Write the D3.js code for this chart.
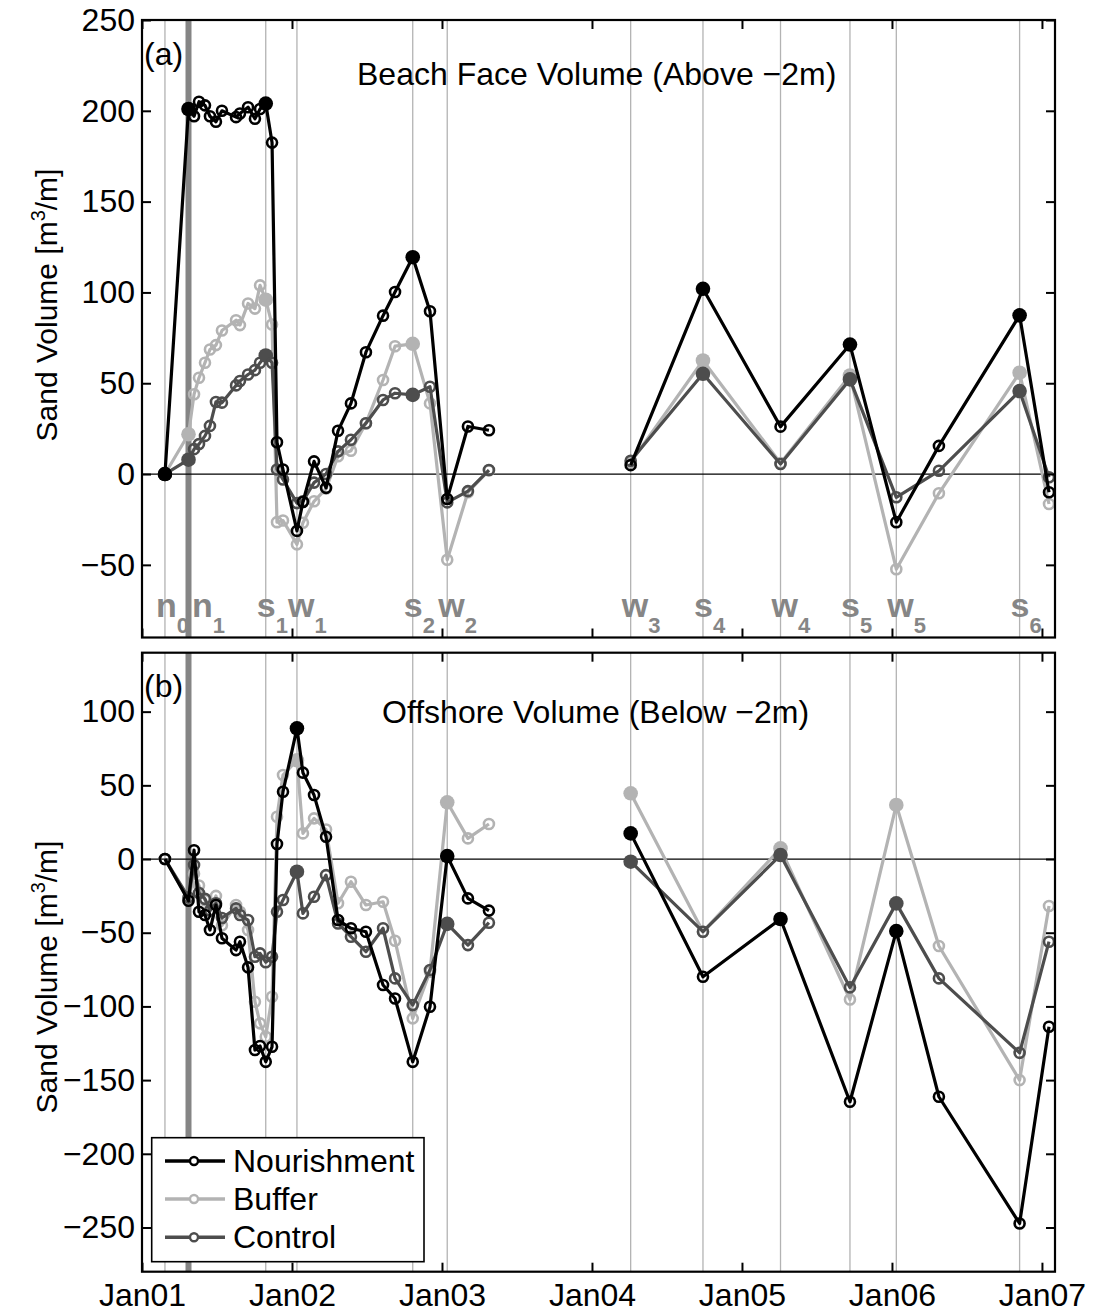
<!DOCTYPE html>
<html><head><meta charset="utf-8">
<script src="https://cdn.jsdelivr.net/npm/d3@7"></script>
<style>
body{margin:0;background:#fff}
svg{display:block}
text{font-family:"Liberation Sans",Arial,Helvetica,sans-serif}
</style>
</head><body>
<svg id="c" width="1094" height="1313"></svg>
<script>
// ---- data (decimal years) ----
const surveyTimes = [2001.153, 2001.31, 2001.347, 2001.38, 2001.42, 2001.453, 2001.493, 2001.533, 2001.627, 2001.653,
  2001.707, 2001.753, 2001.787, 2001.825, 2001.867, 2001.9, 2001.94, 2002.033, 2002.073, 2002.147,
  2002.227, 2002.307, 2002.393, 2002.493, 2002.607, 2002.687, 2002.805, 2002.92, 2003.035, 2003.173,
  2003.313, 2004.258, 2004.74, 2005.257, 2005.72, 2006.029, 2006.313, 2006.851, 2007.047];

const seriesNames = ["Nourishment", "Buffer", "Control"];

// Panel (a) Beach face volume (above -2m)
const beachNourishment = [0, 201, 197, 205, 203, 197, 194, 200, 196.5, 198.5,
  202, 195.6, 201, 204, 182.5, 17.5, 2.5, -31.3, -15.4, 7,
  -7.6, 23.8, 38.9, 67.1, 87.2, 100.2, 119.4, 89.6, -13.7, 26.2,
  24.1, 4.9, 102, 26.1, 71.3, -26.5, 15.5, 87.4, -10];
const beachBuffer = [0, 21.9, 43.9, 53, 61.3, 68.6, 71, 79, 84.7, 82,
  93.9, 91.1, 103.9, 96, 82.3, -26.5, -25.6, -38.7, -26.8, -15,
  -8, 9.8, 12.8, 28, 51.8, 70.4, 71.7, 38.9, -47.2, -10,
  2, 6.4, 62.5, 6, 54.3, -52.4, -10.6, 55.8, -16.5];
const beachControl = [0, 7.9, 13.7, 16.5, 21, 26.5, 39.7, 39.3, 48.8, 51.2,
  54.8, 57.2, 61.3, 65.3, 61.3, 2.5, -3, -16, -15, -4.7,
  0, 12.5, 18.9, 28, 40.8, 44.5, 43.6, 48.1, -15.6, -9.4,
  2.2, 7.3, 55.2, 5.5, 52.1, -12.8, 1.8, 45.7, -1.8];

// Panel (b) Offshore volume (below -2m)
const offNourishment = [0, -28.3, 6, -35.8, -38, -48.2, -31.2, -53.8, -61.8, -56.1,
  -73.5, -129.6, -126.9, -137.6, -127.4, 10.2, 45.7, 88.7, 58.6, 43.4,
  15.1, -41.4, -47, -49.3, -85.5, -94.6, -137.6, -100.2, 2, -26.7,
  -35, 17.4, -79.9, -40.7, -164.7, -48.9, -161.3, -247.3, -113.8];
const offBuffer = [0, -28, -10, -18, -28, -35, -25, -45, -31.2, -35.8,
  -48.2, -96.8, -111.5, -120.6, -93.4, 28.7, 57, 67, 17.4, 27.6,
  20, -30, -15.4, -31.2, -29, -55.4, -108.1, -76.5, 38.5, 14,
  23.8, 44.6, -49.3, 7.2, -95.3, 36.7, -59, -150, -31.9];
const offControl = [0, -26, -4, -23, -27, -35, -30, -40, -33.5, -38,
  -41.4, -66.3, -64, -70, -66.3, -35.8, -27.8, -8.6, -36.9, -25.6,
  -10.9, -43.7, -52.7, -62.9, -47, -81, -99.1, -75.3, -44, -58.4,
  -43.2, -1.8, -49.3, 2.7, -87.1, -30.1, -81, -131.5, -56.1];

// Events (s = summer, w = winter, n = nourishment)
const eventLetters = ["n", "n", "s", "w", "s", "w", "w", "s", "w", "s", "w", "s"];
const eventSubs    = ["0", "1", "1", "1", "2", "2", "3", "4", "4", "5", "5", "6"];
const eventTimes   = [2001.153, 2001.393, 2001.825, 2002.033, 2002.805, 2003.035, 2004.258, 2004.74, 2005.257, 2005.72, 2006.029, 2006.851];
const eventHasLine = [true, false, true, true, true, true, true, true, true, true, true, true];
const nourishmentTime = 2001.31;

// Filled markers: panel (a) at n & s surveys, panel (b) at w surveys
const filledTimesA = [2001.153, 2001.31, 2001.825, 2002.805, 2004.74, 2005.72, 2006.851];
const filledTimesB = [2002.033, 2003.035, 2004.258, 2005.257, 2006.029];

const xTickValues = [2001, 2002, 2003, 2004, 2005, 2006, 2007];
const xTickLabels = ["Jan01", "Jan02", "Jan03", "Jan04", "Jan05", "Jan06", "Jan07"];
const yTicksA = [-50, 0, 50, 100, 150, 200, 250];
const yTicksB = [-250, -200, -150, -100, -50, 0, 50, 100];

// ---- drawing ----
const svg = d3.select("#c");
const L = 142, R = 1055;
const x = d3.scaleLinear().domain([2001, 2007.087]).range([L, R]);
const colors = {Nourishment: "#000000", Buffer: "#b3b3b3", Control: "#4d4d4d"};
const fmt = d => d < 0 ? "\u2212" + Math.abs(d) : String(d);

const panels = [
  {top: 20, bottom: 637.5, domain: [-90, 250], ticks: yTicksA,
   data: {Nourishment: beachNourishment, Buffer: beachBuffer, Control: beachControl},
   filled: filledTimesA, tag: "(a)", tagY: 65, title: "Beach Face Volume (Above \u22122m)", titleX: 357, titleY: 85,
   labelY: 305, events: true, xlabels: false},
  {top: 652.7, bottom: 1271.7, domain: [-280, 140], ticks: yTicksB,
   data: {Nourishment: offNourishment, Buffer: offBuffer, Control: offControl},
   filled: filledTimesB, tag: "(b)", tagY: 697, title: "Offshore Volume (Below \u22122m)", titleX: 382, titleY: 723,
   labelY: 977, events: false, xlabels: true}
];

panels.forEach(p => {
  const y = d3.scaleLinear().domain(p.domain).range([p.bottom, p.top]);
  const g = svg.append("g");

  // event lines
  eventTimes.forEach((t, i) => {
    if (!eventHasLine[i]) return;
    g.append("line").attr("x1", x(t)).attr("x2", x(t)).attr("y1", p.top).attr("y2", p.bottom)
      .attr("stroke", "#b3b3b3").attr("stroke-width", 1.3);
  });
  g.append("line").attr("x1", x(nourishmentTime)).attr("x2", x(nourishmentTime))
    .attr("y1", p.top).attr("y2", p.bottom).attr("stroke", "#858585").attr("stroke-width", 6);

  // zero line
  g.append("line").attr("x1", L).attr("x2", R).attr("y1", y(0)).attr("y2", y(0))
    .attr("stroke", "#000").attr("stroke-width", 1.2);

  // series: Buffer, Control, Nourishment (draw order)
  ["Buffer", "Control", "Nourishment"].forEach(name => {
    const vals = p.data[name];
    const pts = surveyTimes.map((t, i) => ({t, v: vals[i]}));
    // split into segments at the survey gap (2003-2004)
    const segs = [[]];
    pts.forEach((d, i) => {
      if (i > 0 && d.t - pts[i - 1].t > 0.8) segs.push([]);
      segs[segs.length - 1].push(d);
    });
    const line = d3.line().x(d => x(d.t)).y(d => y(d.v));
    segs.forEach(s => g.append("path").attr("d", line(s)).attr("fill", "none")
      .attr("stroke", colors[name]).attr("stroke-width", 3.2).attr("stroke-linejoin", "round"));
    pts.forEach(d => {
      const isFilled = p.filled.some(ft => Math.abs(ft - d.t) < 0.002);
      if (isFilled) {
        g.append("circle").attr("cx", x(d.t)).attr("cy", y(d.v)).attr("r", 7.3).attr("fill", colors[name]);
      } else {
        g.append("circle").attr("cx", x(d.t)).attr("cy", y(d.v)).attr("r", 5)
          .attr("fill", "none").attr("stroke", colors[name]).attr("stroke-width", 2.6);
      }
    });
  });

  // event labels
  if (p.events) {
    eventTimes.forEach((t, i) => {
      const tx = g.append("text").attr("x", x(t) - 9).attr("y", 617)
        .attr("fill", "#868686").attr("font-weight", "bold").attr("font-size", 34);
      tx.append("tspan").text(eventLetters[i]);
      tx.append("tspan").attr("dy", 16).attr("font-size", 22).text(eventSubs[i]);
    });
  }

  // axes
  const axL = d3.axisLeft(y).tickValues(p.ticks).tickSize(-9).tickPadding(7).tickFormat(fmt);
  const axR = d3.axisRight(y).tickValues(p.ticks).tickSize(-9).tickFormat("");
  const axT = d3.axisTop(x).tickValues(xTickValues).tickSize(-9).tickFormat("");
  const axB = d3.axisBottom(x).tickValues(xTickValues).tickSize(-9).tickPadding(12)
    .tickFormat(p.xlabels ? ((d, i) => xTickLabels[i]) : "");
  const style = sel => {
    sel.select(".domain").remove();
    sel.selectAll(".tick line").attr("stroke", "#000").attr("stroke-width", 2);
    sel.selectAll(".tick text").attr("font-size", 32).attr("fill", "#000")
      .attr("font-family", "\"Liberation Sans\",Arial,Helvetica,sans-serif");
  };
  svg.append("g").attr("transform", `translate(${L},0)`).call(axL).call(style);
  svg.append("g").attr("transform", `translate(${R},0)`).call(axR).call(style);
  svg.append("g").attr("transform", `translate(0,${p.top})`).call(axT).call(style);
  svg.append("g").attr("transform", `translate(0,${p.bottom})`).call(axB).call(style);

  svg.append("rect").attr("x", L).attr("y", p.top).attr("width", R - L).attr("height", p.bottom - p.top)
    .attr("fill", "none").attr("stroke", "#000").attr("stroke-width", 2.2);

  // texts
  svg.append("text").attr("x", 144).attr("y", p.tagY).attr("font-size", 32).text(p.tag);
  svg.append("text").attr("x", p.titleX).attr("y", p.titleY).attr("font-size", 32).text(p.title);

  const yl = svg.append("text").attr("transform", `translate(57,${p.labelY}) rotate(-90)`)
    .attr("text-anchor", "middle").attr("font-size", 30);
  yl.append("tspan").text("Sand Volume [m");
  yl.append("tspan").attr("dy", -12).attr("font-size", 20).text("3");
  yl.append("tspan").attr("dy", 12).text("/m]");
});

// legend
const lg = svg.append("g");
lg.append("rect").attr("x", 151.7).attr("y", 1137.7).attr("width", 272.3).attr("height", 124)
  .attr("fill", "#fff").attr("stroke", "#000").attr("stroke-width", 1.6);
const rowY = [1161, 1199, 1237.3];
seriesNames.forEach((name, i) => {
  lg.append("line").attr("x1", 165).attr("x2", 225).attr("y1", rowY[i]).attr("y2", rowY[i])
    .attr("stroke", colors[name]).attr("stroke-width", 3.5);
  lg.append("circle").attr("cx", 194).attr("cy", rowY[i]).attr("r", 4)
    .attr("fill", "#fff").attr("stroke", colors[name]).attr("stroke-width", 2.4);
  lg.append("text").attr("x", 233).attr("y", rowY[i] + 11).attr("font-size", 32).text(name);
});
</script>
</body></html>
